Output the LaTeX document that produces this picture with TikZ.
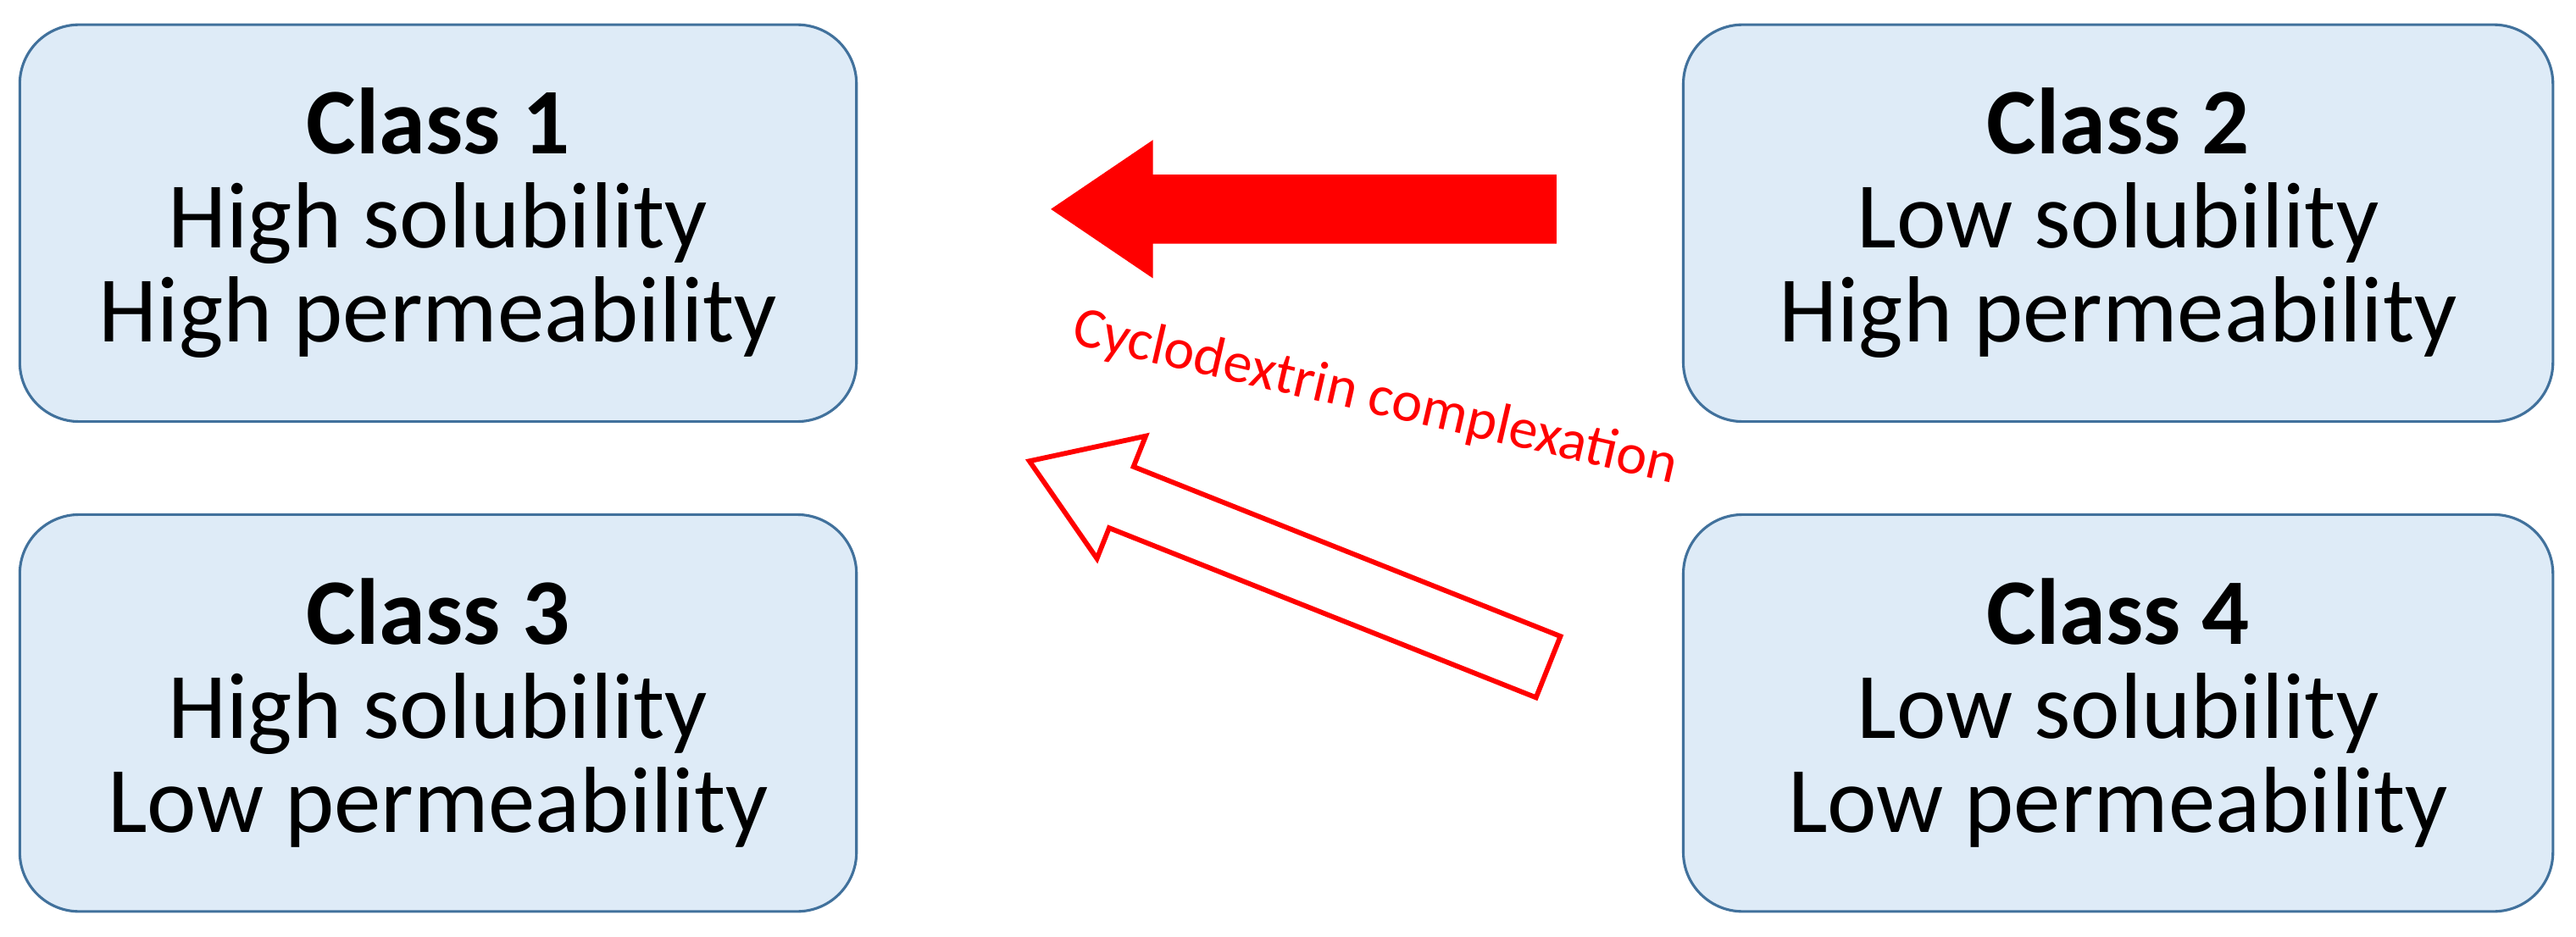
\documentclass[tikz,border=0pt]{standalone}
\usepackage{fontspec}
\setmainfont{Carlito}
\begin{document}
\begin{tikzpicture}[x=1pt,y=-1pt,
  cls/.style={draw=boxline,line width=1.6pt,fill=boxfill,rounded corners=36pt,minimum width=508pt,minimum height=241pt,align=center,font=\fontsize{57}{57}\selectfont,inner sep=0pt},
  lbl/.style={text=red,font=\fontsize{35}{40}\selectfont}]
\definecolor{boxfill}{HTML}{DEEBF7}
\definecolor{boxline}{HTML}{41719C}
\useasboundingbox (0,0) rectangle (1564,569);
\node[cls] (c1) at (266,135.5) {\textbf{Class 1}\\High solubility\\High permeability};
\node[cls,minimum width=528pt] (c2) at (1286,135.5) {\textbf{Class 2}\\Low solubility\\High permeability};
\node[cls] (c3) at (266,433) {\textbf{Class 3}\\High solubility\\Low permeability};
\node[cls,minimum width=528pt] (c4) at (1286,433) {\textbf{Class 4}\\Low solubility\\Low permeability};
\fill[red] (945,106) -- (700,106) -- (700,85) -- (638,127) -- (700,169) -- (700,148) -- (945,148) -- cycle;
\draw[red,line width=3pt,fill=white] (947.4,386.4) -- (688.2,283.4) -- (695.6,264.8) -- (625,280) -- (666,339.2) -- (673.4,320.6) -- (932.6,423.6) -- cycle;
\node[lbl,rotate=-13] (lab) at (835,242) {Cyclodextrin complexation};
\end{tikzpicture}
\end{document}
